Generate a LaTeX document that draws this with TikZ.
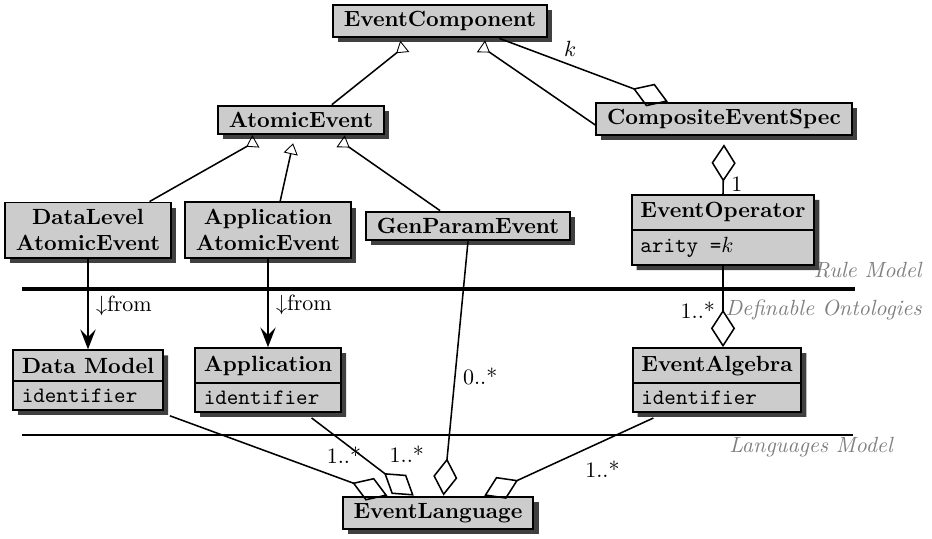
\documentclass[tikz,border=0pt]{standalone}
\usetikzlibrary{arrows.meta,shapes.multipart,shadows,calc}
\definecolor{boxgray}{gray}{0.8}
\definecolor{shadowgray}{gray}{0.25}
\definecolor{layergray}{gray}{0.5}
\begin{document}
\begin{tikzpicture}[x=0.4545pt, y=-0.4545pt,
    box/.style={draw, line width=0.9pt, fill=boxgray, inner xsep=5pt, inner ysep=3pt,
        drop shadow={shadow xshift=2.3pt, shadow yshift=-2.3pt, fill=shadowgray, opacity=1}},
    cls/.style={box, font=\bfseries, align=center},
    attcls/.style={box, font=\bfseries, inner xsep=4pt, rectangle split, rectangle split parts=2,
        rectangle split part align={center,left}},
    layer/.style={font=\itshape, text=layergray, inner sep=0pt},
    gen/.style={line width=0.7pt, -{Triangle[open, reversed, length=5pt, width=6.5pt, line width=0.4pt]}},
    genup/.style={line width=0.7pt, -{Triangle[open, length=5pt, width=6.5pt, line width=0.4pt]}},
    agg/.style={line width=0.7pt, -{Diamond[open, length=17pt, width=11pt]}},
    dep/.style={line width=0.7pt, -{Stealth[length=9pt, width=7pt, inset=3.5pt]}}]
    \useasboundingbox (0,0) rectangle (932,538);

    % layers
    \draw[line width=1.4pt] (22,289) -- (855,289);
    \draw[line width=0.9pt] (22,435) -- (853,435);
    \node[layer, anchor=east] (rulemodel) at (922,270) {Rule Model};
    \node[layer, anchor=east] (ontologies) at (922,310) {Definable Ontologies};
    \node[layer] (langmodel) at (811,447) {Languages Model};

    % classes
    \node[cls] (ec) at (440,21) {EventComponent};
    \node[cls] (ae) at (301,120) {AtomicEvent};
    \node[cls] (ces) at (724,119) {CompositeEventSpec};
    \node[cls] (dlae) at (88,230) {DataLevel\\AtomicEvent};
    \node[cls] (apae) at (268,230) {Application\\AtomicEvent};
    \node[cls] (gpe) at (468,226) {GenParamEvent};
    \node[attcls] (eo) at (723,230) {EventOperator\nodepart{two}\mdseries\texttt{arity =}$k$};
    \node[attcls] (dm) at (88,380) {Data Model\nodepart{two}\mdseries\ttfamily identifier};
    \node[attcls] (ap) at (268,380) {Application\nodepart{two}\mdseries\ttfamily identifier};
    \node[attcls] (ea) at (717,380) {EventAlgebra\nodepart{two}\mdseries\ttfamily identifier};
    \node[cls] (el) at (438,513) {EventLanguage};

    % generalisations
    \draw[gen] ([xshift=14pt]ae.north) -- ([xshift=-16pt,yshift=-3.6pt]ec.south);
    \draw[gen] ([yshift=-2.7pt]ces.west) -- ([xshift=18.6pt,yshift=-3.6pt]ec.south);
    \draw[gen] ([xshift=28pt]dlae.north) -- ([xshift=-20.5pt,yshift=-2.7pt]ae.south);
    \draw[genup] ([xshift=5.5pt]apae.north) -- ([xshift=-3.6pt,yshift=-3.6pt]ae.south);
    \draw[gen] ([xshift=-12.7pt]gpe.north) -- ([xshift=18pt,yshift=-2.7pt]ae.south);

    % aggregations
    \draw[agg] ([xshift=27pt]ec.south) -- ([xshift=-25.5pt]ces.north)
        node[pos=0.42, above] (lk) {$k$};
    \draw[agg] (eo.north) -- ([yshift=-3.6pt]ces.south)
        node[pos=0.2, right] (lone) {1};
    \draw[agg] (eo.south) -- (eo.south |- ea.north)
        node[pos=0.55, left] (lea) {1..*};
    \draw[agg] (gpe.south) -- ([xshift=2.5pt]el.north)
        node[pos=0.53, right] (lgpe) {0..*};
    \draw[agg] ([xshift=2.7pt,yshift=-2.3pt]dm.south east) -- ([xshift=-23pt]el.north)
        node[pos=0.8, above=3.5pt] (ldm) {1..*};
    \draw[agg] ([xshift=19.8pt,yshift=-2.3pt]ap.south) -- ([xshift=-11pt]el.north)
        node[pos=0.47, right=10pt] (lap) {1..*};
    \draw[agg] ([xshift=-28.9pt,yshift=-2.3pt]ea.south) -- ([xshift=21pt]el.north)
        node[pos=0.45, below right] (lalg) {1..*};

    % dependencies
    \draw[dep] (dlae.south) -- (dlae.south |- dm.north)
        node[pos=0.52, right] (ldl) {$\downarrow$from};
    \draw[dep] (apae.south) -- (apae.south |- ap.north)
        node[pos=0.52, right] (lapp) {$\downarrow$from};
\end{tikzpicture}
\end{document}
